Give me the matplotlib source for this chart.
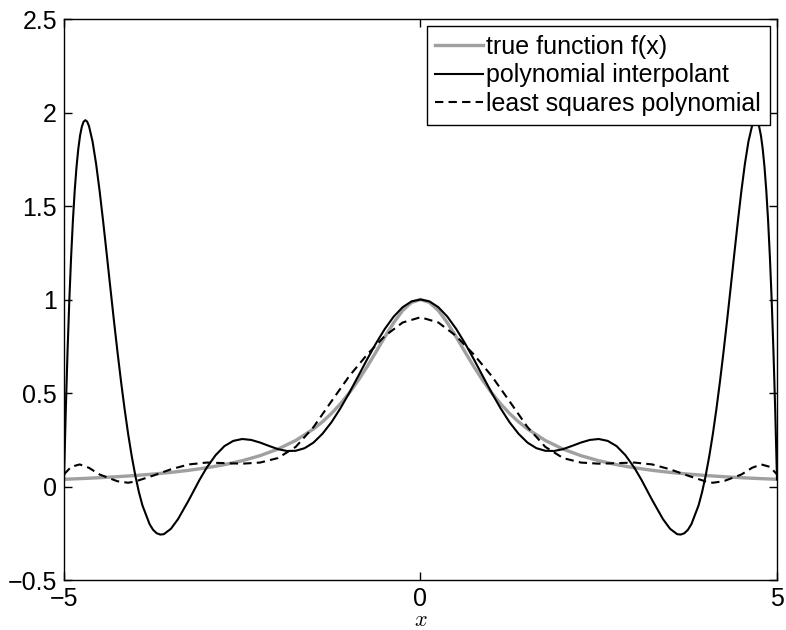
import matplotlib
matplotlib.use("Agg")
import matplotlib.pyplot as plt

plt.rcParams['font.family'] = ['Liberation Sans', 'DejaVu Sans']
plt.rcParams['font.size'] = 18
plt.rcParams['mathtext.fontset'] = 'cm'

# true function f(x)
x_true = [-5, -4.75, -4.5, -4.25, -4, -3.75, -3.5, -3.25, -3, -2.75, -2.5, -2.25, -2, -1.75,
          -1.5, -1.375, -1.25, -1.125, -1, -0.875, -0.75, -0.625, -0.5, -0.375, -0.25, -0.125,
          0, 0.125, 0.25, 0.375, 0.5, 0.625, 0.75, 0.875, 1, 1.125, 1.25, 1.375, 1.5,
          1.75, 2, 2.25, 2.5, 2.75, 3, 3.25, 3.5, 3.75, 4, 4.25, 4.5, 4.75, 5]
y_true = [0.0385, 0.0425, 0.0471, 0.0525, 0.0588, 0.0664, 0.0755, 0.0865, 0.1, 0.1168, 0.1379, 0.1649, 0.2, 0.2462,
          0.3077, 0.346, 0.3902, 0.4414, 0.5, 0.5664, 0.64, 0.719, 0.8, 0.8767, 0.9412, 0.9846,
          1.0, 0.9846, 0.9412, 0.8767, 0.8, 0.719, 0.64, 0.5664, 0.5, 0.4414, 0.3902, 0.346, 0.3077,
          0.2462, 0.2, 0.1649, 0.1379, 0.1168, 0.1, 0.0865, 0.0755, 0.0664, 0.0588, 0.0525, 0.0471, 0.0425, 0.0385]

# polynomial interpolant (black solid)
x_interp = [-5, -4.975, -4.95, -4.925, -4.9, -4.875, -4.85, -4.825, -4.8, -4.775, -4.75, -4.725, -4.7,
            -4.675, -4.65, -4.6, -4.55, -4.5, -4.45, -4.4, -4.35, -4.3, -4.25, -4.2, -4.15, -4.1,
            -4.05, -4, -3.95, -3.9, -3.8, -3.75, -3.7, -3.65, -3.6, -3.5, -3.4, -3.25, -3.1, -3,
            -2.875, -2.75, -2.625, -2.5, -2.375, -2.25, -2.125, -2, -1.875, -1.75, -1.625, -1.5,
            -1.375, -1.25, -1.125, -1, -0.875, -0.75, -0.625, -0.5, -0.375, -0.25, -0.125,
            0, 0.125, 0.25, 0.375, 0.5, 0.625, 0.75, 0.875, 1, 1.125, 1.25, 1.375, 1.5,
            1.625, 1.75, 1.875, 2, 2.125, 2.25, 2.375, 2.5, 2.625, 2.75, 2.875, 3, 3.1, 3.25,
            3.4, 3.5, 3.6, 3.65, 3.7, 3.75, 3.8, 3.9, 3.95, 4, 4.05, 4.1, 4.15, 4.2, 4.25, 4.3,
            4.35, 4.4, 4.45, 4.5, 4.55, 4.6, 4.65, 4.675, 4.7, 4.725, 4.75, 4.775, 4.8, 4.825,
            4.85, 4.875, 4.9, 4.925, 4.95, 4.975, 5]
y_interp = [0.038, 0.407, 0.726, 0.999, 1.230, 1.423, 1.581, 1.707, 1.804, 1.876, 1.924, 1.951, 1.959,
            1.951, 1.928, 1.846, 1.726, 1.579, 1.414, 1.240, 1.063, 0.888, 0.720, 0.561, 0.414, 0.280,
            0.162, 0.059, -0.029, -0.101, -0.201, -0.232, -0.250, -0.257, -0.255, -0.226, -0.174, -0.073, 0.035, 0.1,
            0.167, 0.216, 0.244, 0.254, 0.249, 0.235, 0.217, 0.2, 0.190, 0.191, 0.205, 0.235,
            0.282, 0.343, 0.417, 0.5, 0.589, 0.679, 0.765, 0.843, 0.909, 0.959, 0.990,
            1.0, 0.990, 0.959, 0.909, 0.843, 0.765, 0.679, 0.589, 0.5, 0.417, 0.343, 0.282, 0.235,
            0.205, 0.191, 0.190, 0.2, 0.217, 0.235, 0.249, 0.254, 0.244, 0.216, 0.167, 0.1, 0.035, -0.073,
            -0.174, -0.226, -0.255, -0.257, -0.250, -0.232, -0.201, -0.101, -0.029, 0.059, 0.162, 0.280, 0.414, 0.561, 0.720, 0.888,
            1.063, 1.240, 1.414, 1.579, 1.726, 1.846, 1.928, 1.951, 1.959, 1.951, 1.924, 1.876, 1.804, 1.707,
            1.581, 1.423, 1.230, 0.999, 0.726, 0.407, 0.038]

# least squares polynomial (black dashed)
x_lsq = [-5, -4.9, -4.78, -4.65, -4.5, -4.25, -4.1, -4, -3.75, -3.5, -3.25, -3, -2.75, -2.5,
         -2.25, -2, -1.75, -1.5, -1.25, -1, -0.75, -0.5, -0.25, 0,
         0.25, 0.5, 0.75, 1, 1.25, 1.5, 1.75, 2, 2.25, 2.5, 2.75, 3, 3.25, 3.5, 3.75,
         4, 4.1, 4.25, 4.5, 4.65, 4.78, 4.9, 5]
y_lsq = [0.065, 0.105, 0.118, 0.1, 0.064, 0.028, 0.02, 0.027, 0.058, 0.092, 0.118, 0.128, 0.125, 0.122,
         0.128, 0.152, 0.212, 0.318, 0.455, 0.59, 0.705, 0.805, 0.877, 0.905,
         0.877, 0.805, 0.705, 0.59, 0.455, 0.318, 0.212, 0.152, 0.128, 0.122, 0.125, 0.128, 0.118, 0.092, 0.058,
         0.027, 0.02, 0.028, 0.064, 0.1, 0.118, 0.105, 0.065]

labels = ['true function f(x)', 'polynomial interpolant', 'least squares polynomial']
yticks = [-0.5, 0, 0.5, 1, 1.5, 2, 2.5]
ytick_labels = ['\u22120.5', '0', '0.5', '1', '1.5', '2', '2.5']
xticks = [-5, 0, 5]
xtick_labels = ['\u22125', '0', '5']

fig = plt.figure(figsize=(7.86, 6.30), dpi=100)
ax = fig.add_axes([64 / 786, 50 / 630, 713 / 786, 561 / 630])

ax.plot(x_true, y_true, color='#a0a0a0', lw=2.4, label=labels[0])
ax.plot(x_interp, y_interp, color='black', lw=1.5, label=labels[1])
ax.plot(x_lsq, y_lsq, color='black', lw=1.5, linestyle=(0, (4, 2.5)), label=labels[2])

ax.set_xlim(-5, 5)
ax.set_ylim(-0.5, 2.5)
ax.set_xticks(xticks)
ax.set_xticklabels(xtick_labels)
ax.set_yticks(yticks)
ax.set_yticklabels(ytick_labels)
ax.tick_params(axis='y', direction='in', length=6, width=1, right=True, pad=5)
ax.tick_params(axis='x', direction='in', length=6, width=1, top=True, pad=5)
for s in ax.spines.values():
    s.set_linewidth(1.0)
ax.set_xlabel('$x$', fontsize=16, labelpad=-1)

# legend box sits just under the top-right corner, like matlab's 'NorthEast'
leg = ax.legend(loc='upper right', bbox_to_anchor=(770 / 786, 1 - 26 / 630),
                bbox_transform=fig.transFigure, borderaxespad=0, fancybox=False,
                framealpha=1, edgecolor='black', handlelength=1.9, handletextpad=0.15,
                borderpad=0.35, labelspacing=0.18)
leg.get_frame().set_linewidth(1.0)

fig.savefig('out.png', dpi=100)
